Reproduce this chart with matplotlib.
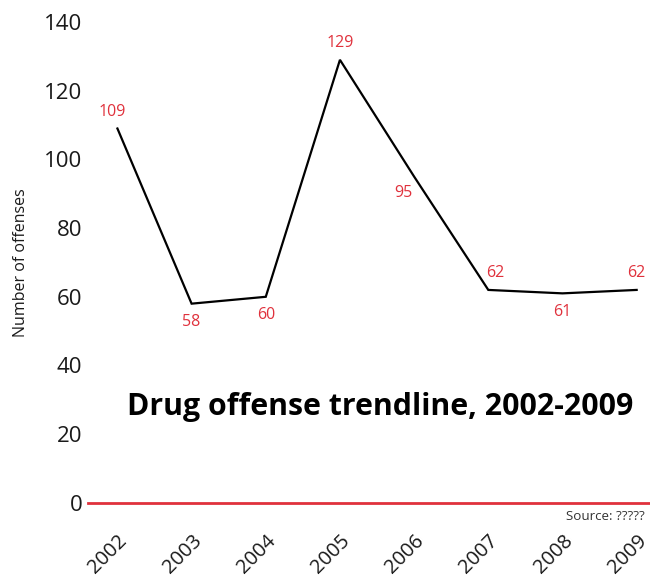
import matplotlib
matplotlib.use("Agg")
import matplotlib.pyplot as plt

plt.rcParams['font.family'] = ['Open Sans', 'DejaVu Sans']

years = [2002, 2003, 2004, 2005, 2006, 2007, 2008, 2009]
offenses = [109, 58, 60, 129, 95, 62, 61, 62]
y_ticks = [0, 20, 40, 60, 80, 100, 120, 140]

# label placement per point: (dx in years, dy in data units, vertical alignment)
label_offsets = [(-0.07, 2.5, 'bottom'), (0, -3, 'top'), (0, -3, 'top'),
                 (0, 2.5, 'bottom'), (-0.15, -2.5, 'top'), (0.1, 2.5, 'bottom'),
                 (0, -3, 'top'), (0, 2.5, 'bottom')]

red = '#e0313c'

fig = plt.figure(figsize=(6.5, 5.8), dpi=100)
ax = fig.add_axes([0.135, 0.133, 0.865, 0.829])

ax.plot(years, offenses, color='black', lw=1.6, solid_joinstyle='miter')
ax.axhline(0, color=red, lw=2, zorder=3, clip_on=False)

for yr, v, (dx, dy, va) in zip(years, offenses, label_offsets):
    ax.text(yr + dx, v + dy, str(v), color=red, fontsize=11.5, ha='center', va=va)

ax.set_xlim(2001.6, 2009.18)
ax.set_ylim(0, 140)
ax.set_yticks(y_ticks)
ax.set_yticklabels([str(t) for t in y_ticks], fontsize=16, color='#1a1a1a')
ax.set_xticks(years)
ax.set_xticklabels([str(y) for y in years], fontsize=14.5, rotation=45,
                   ha='right', va='top', rotation_mode='anchor', color='#1a1a1a')
ax.tick_params(axis='both', length=0)
ax.tick_params(axis='y', pad=4)
ax.tick_params(axis='x', pad=20)
for s in ax.spines.values():
    s.set_visible(False)

ax.set_ylabel('Number of offenses', fontsize=11.5, color='#1a1a1a', labelpad=11)

ax.text(0.97, 0.20, 'Drug offense trendline, 2002-2009', transform=ax.transAxes,
        fontsize=21.8, fontweight='bold', ha='right', va='center', color='black')
ax.text(0.99, -0.015, 'Source: ?????', transform=ax.transAxes, fontsize=9.6,
        ha='right', va='top', color='#333333')

fig.savefig('out.png', dpi=100)
